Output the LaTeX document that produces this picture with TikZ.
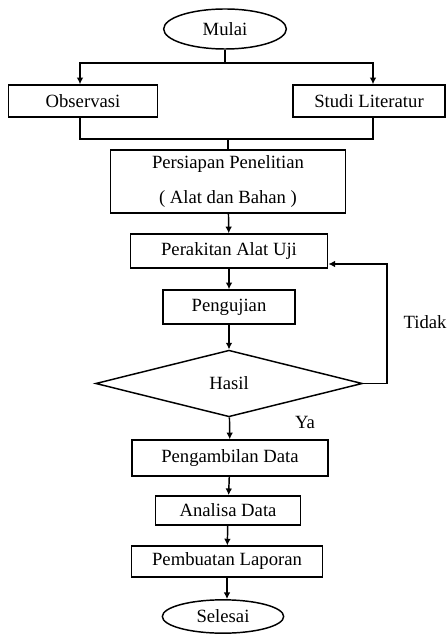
\documentclass[tikz,border=0pt]{standalone}
\usepackage{fontspec}
\setmainfont{Liberation Serif}
\usetikzlibrary{shapes.geometric,arrows.meta}
\tikzset{>={Latex[length=5pt,width=5pt]}}
\tikzstyle{box}=[draw, rectangle, inner sep=0, align=center]
\tikzstyle{terminal}=[draw, ellipse, inner sep=0, minimum width=92pt, minimum height=30pt]
\tikzstyle{decision}=[draw, diamond, inner sep=0, minimum width=200pt, minimum height=50pt]

\begin{document}
\begin{tikzpicture}[x=0.75pt, y=-0.75pt, line width=1.1, font=\fontsize{14}{16}\selectfont]
		% Frame
		\useasboundingbox (0,0) rectangle (446,634);
		
		% Nodes
		\node[terminal] (mulai) at (225,29) {Mulai};
		\node[box, minimum width=112pt, minimum height=24pt] (obs) at (83,101) {Observasi};
		\node[box, minimum width=114pt, minimum height=24pt] (studi) at (369,101) {Studi Literatur};
		\node[box, minimum width=176pt, minimum height=47pt] (prep) at (228,181.5) {Persiapan Penelitian\\[10pt]( Alat dan Bahan )};
		\node[box, minimum width=148pt, minimum height=25.5pt] (rakit) at (229,251) {Perakitan Alat Uji};
		\node[box, minimum width=99pt, minimum height=25.5pt] (uji) at (229,307) {Pengujian};
		\node[decision] (hasil) at (229,383.5) {Hasil};
		\node[box, minimum width=147pt, minimum height=27pt] (ambil) at (230,458) {Pengambilan Data};
		\node[box, minimum width=109pt, minimum height=22pt] (analisa) at (228,510.5) {Analisa Data};
		\node[box, minimum width=143pt, minimum height=23pt] (laporan) at (227,561.5) {Pembuatan Laporan};
		\node[terminal, minimum width=91pt, minimum height=25pt] (selesai) at (223,616.5) {Selesai};
		
		% Junctions
		\coordinate (split) at (225,63);
		\coordinate (merge) at (228,139);
		
		% Arrows
		\draw (mulai) -- (split);
		\draw[->] (split) -| ([xshift=-2.25pt]obs.north);
		\draw[->] (split) -| ([xshift=3pt]studi.north);
		\draw ([xshift=-2.25pt]obs.south) |- (merge);
		\draw ([xshift=3pt]studi.south) |- (merge);
		\draw (merge) -- (prep);
		\draw[->] (prep) -- (rakit);
		\draw[->] (rakit) -- (uji);
		\draw[->] (uji) -- (hasil);
		\draw[->] (hasil) -- (ambil);
		\draw[->] (ambil) -- (analisa);
		\draw[->] (analisa) -- (laporan);
		\draw[->] (laporan.south) -- (laporan.south |- selesai.north);
		\draw[->] (hasil.east) -- ++(24,0) |- ([yshift=-9.75pt]rakit.east);
		
		% Labels
		\node (tidak) at (425,322) {Tidak};
		\node (ya) at (305,422) {Ya};
	\end{tikzpicture}
\end{document}
